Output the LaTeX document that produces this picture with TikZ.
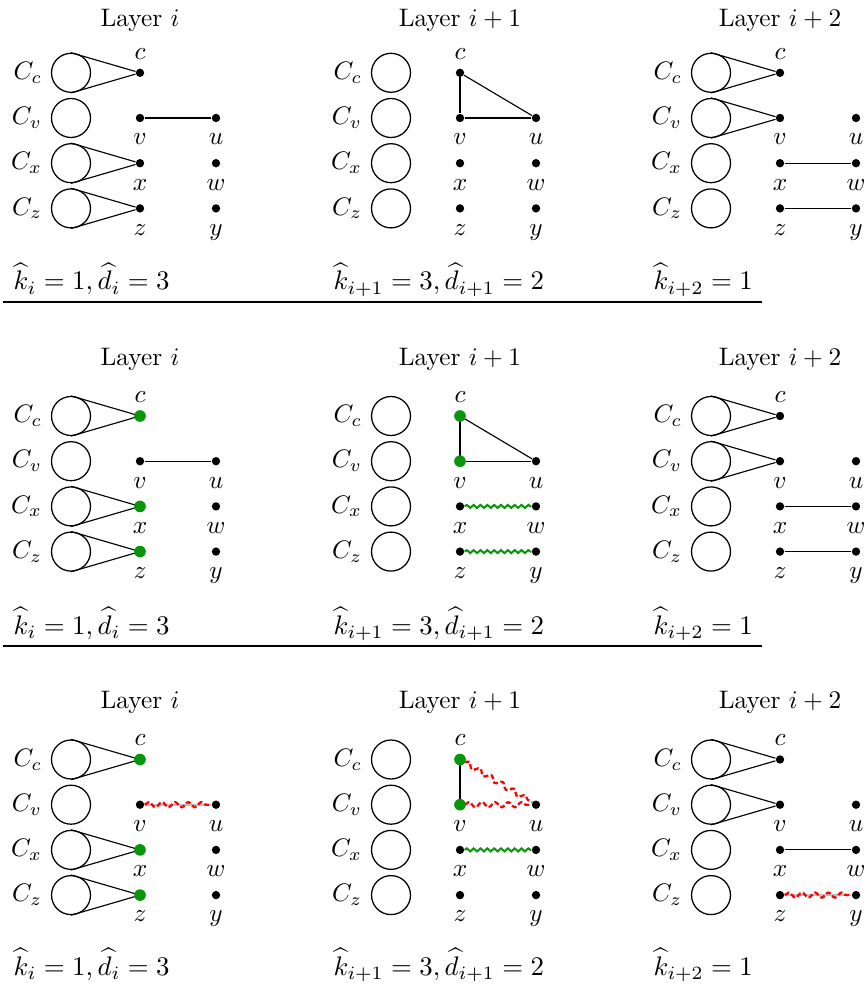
\documentclass[tikz,border=0pt]{standalone}
\usetikzlibrary{decorations.pathmorphing}
\definecolor{gr}{RGB}{10,150,10}
\tikzset{
 bigc/.style={circle,draw,minimum size=15.4pt,inner sep=0pt,line width=0.5pt},
 dot/.style={circle,fill=black,minimum size=3.3pt,inner sep=0pt},
 gdot/.style={circle,fill=gr,minimum size=4.6pt,inner sep=0pt},
 edge/.style={line width=0.45pt},
 gsnake/.style={gr,line width=0.8pt,decorate,decoration={snake,amplitude=0.6pt,segment length=2.7pt}},
 rsnake/.style={red,line width=0.9pt,dash pattern=on 2pt off 1pt,decorate,decoration={snake,amplitude=1pt,segment length=5.2pt}},
 gline/.style={black!25,line width=0.9pt},
 btext/.style={anchor=base west,inner sep=0pt,scale=1.06},
}
\newcommand\mypanel[7]{%
\begin{scope}[shift={(#2,0)}]
\node[bigc] (#1Cc) at (71,#3) {};
\node[bigc] (#1Cv) at (71,#3+45.2) {};
\node[bigc] (#1Cx) at (71,#3+90.4) {};
\node[bigc] (#1Cz) at (71,#3+135.6) {};
\node[left] (#1Lc) at (#1Cc.west) {$C_c$};
\node[left] (#1Lv) at (#1Cv.west) {$C_v$};
\node[left] (#1Lx) at (#1Cx.west) {$C_x$};
\node[left] (#1Lz) at (#1Cz.west) {$C_z$};
\node[dot] (#1c) at (140,#3) {};
\node[dot] (#1v) at (140,#3+45.2) {};
\node[dot] (#1x) at (140,#3+90.4) {};
\node[dot] (#1z) at (140,#3+135.6) {};
\node[dot] (#1u) at (216,#3+45.2) {};
\node[dot] (#1w) at (216,#3+90.4) {};
\node[dot] (#1y) at (216,#3+135.6) {};
\node[above] (#1tc) at (#1c.north) {$c$};
\node[below=0.9pt] (#1tv) at (#1v.south) {$v$};
\node[below=0.9pt] (#1tx) at (#1x.south) {$x$};
\node[below=0.9pt] (#1tz) at (#1z.south) {$z$};
\node[below=0.9pt] (#1tu) at (#1u.south) {$u$};
\node[below=0.9pt] (#1tw) at (#1w.south) {$w$};
\node[below=0.9pt] (#1ty) at (#1y.south) {$y$};
\node[anchor=base,inner sep=0pt] (#1T) at (140,#6) {Layer #4};
\node[btext] (#1B) at (13,#7) {#5};
\end{scope}}
\newcommand\mytang[2]{\draw[edge] (#1.north) -- (#2); \draw[edge] (#1.south) -- (#2);}
\begin{document}
\begin{tikzpicture}[x=0.395pt,y=-0.395pt]
\useasboundingbox (0,0) rectangle (868,987);
% ---------- row 1
\mypanel{a1}{0}{72.8}{$i$}{$\widehat{k}_i=1,\widehat{d}_i=3$}{27}{290}
\mypanel{a2}{320}{72.8}{$i+1$}{$\widehat{k}_{i+1}=3,\widehat{d}_{i+1}=2$}{27}{290}
\mypanel{a3}{640}{72.8}{$i+2$}{$\widehat{k}_{i+2}=1$}{27}{290}
\mytang{a1Cc}{a1c}\mytang{a1Cx}{a1x}\mytang{a1Cz}{a1z}
\draw[edge] (a1v) -- (a1u);
\draw[edge] (a2c) -- (a2v);
\draw[edge] (a2c) -- (a2u);
\draw[edge] (a2v) -- (a2u);
\mytang{a3Cc}{a3c}\mytang{a3Cv}{a3v}
\draw[edge] (a3x) -- (a3w);
\draw[edge] (a3z) -- (a3y);
\coordinate (s1a) at (3,302);
\coordinate (s1b) at (762,302);
\draw[edge] (s1a) -- (s1b);
% ---------- row 2
\mypanel{b1}{0}{416}{$i$}{$\widehat{k}_i=1,\widehat{d}_i=3$}{365}{634}
\mypanel{b2}{320}{416}{$i+1$}{$\widehat{k}_{i+1}=3,\widehat{d}_{i+1}=2$}{365}{634}
\mypanel{b3}{640}{416}{$i+2$}{$\widehat{k}_{i+2}=1$}{365}{634}
\mytang{b1Cc}{b1c}\mytang{b1Cx}{b1x}\mytang{b1Cz}{b1z}
\draw[edge] (b1v) -- (b1u);
\node[gdot] (b1cg) at (b1c) {};
\node[gdot] (b1xg) at (b1x) {};
\node[gdot] (b1zg) at (b1z) {};
\draw[edge] (b2c) -- (b2v);
\draw[edge] (b2c) -- (b2u);
\draw[edge] (b2v) -- (b2u);
\draw[gsnake] (b2x) -- (b2w);
\draw[gsnake] (b2z) -- (b2y);
\node[gdot] (b2cg) at (b2c) {};
\node[gdot] (b2vg) at (b2v) {};
\mytang{b3Cc}{b3c}\mytang{b3Cv}{b3v}
\draw[edge] (b3x) -- (b3w);
\draw[edge] (b3z) -- (b3y);
\coordinate (s2a) at (3,646);
\coordinate (s2b) at (762,646);
\draw[edge] (s2a) -- (s2b);
% ---------- row 3
\mypanel{c1}{0}{759.5}{$i$}{$\widehat{k}_i=1,\widehat{d}_i=3$}{708}{975}
\mypanel{c2}{320}{759.5}{$i+1$}{$\widehat{k}_{i+1}=3,\widehat{d}_{i+1}=2$}{708}{975}
\mypanel{c3}{640}{759.5}{$i+2$}{$\widehat{k}_{i+2}=1$}{708}{975}
\mytang{c1Cc}{c1c}\mytang{c1Cx}{c1x}\mytang{c1Cz}{c1z}
\draw[gline] (c1v) -- (c1u);
\draw[rsnake] (c1v) -- (c1u);
\node[gdot] (c1cg) at (c1c) {};
\node[gdot] (c1xg) at (c1x) {};
\node[gdot] (c1zg) at (c1z) {};
\draw[edge] (c2c) -- (c2v);
\draw[rsnake] (c2c) -- (c2u);
\draw[rsnake] (c2v) -- (c2u);
\draw[gsnake] (c2x) -- (c2w);
\node[gdot] (c2cg) at (c2c) {};
\node[gdot] (c2vg) at (c2v) {};
\mytang{c3Cc}{c3c}\mytang{c3Cv}{c3v}
\draw[edge] (c3x) -- (c3w);
\draw[gline] (c3z) -- (c3y);
\draw[rsnake] (c3z) -- (c3y);
\end{tikzpicture}
\end{document}
